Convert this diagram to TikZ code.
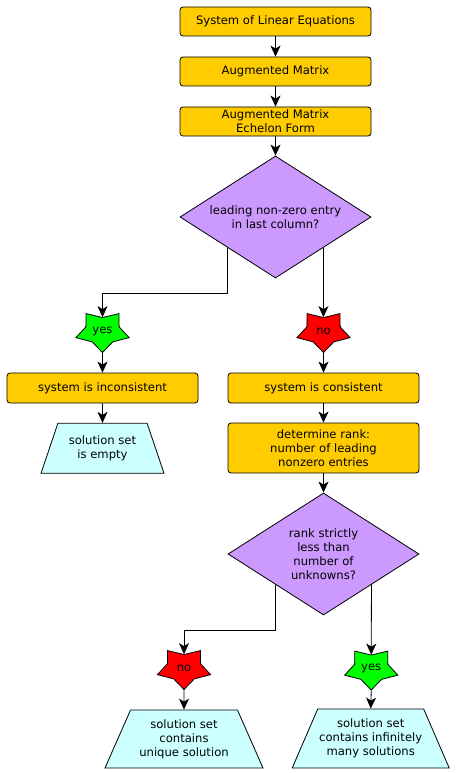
\documentclass[tikz,border=0pt]{standalone}
\usepackage{graphicx}
\usepackage{fontspec}
\setmainfont{DejaVu Sans}
\usetikzlibrary{shapes.geometric,arrows.meta}
\definecolor{boxyellow}{HTML}{FFCC00}
\definecolor{askpurple}{HTML}{CC99FF}
\definecolor{endcyan}{HTML}{CCFFFF}
\definecolor{yesgreen}{HTML}{00FF00}
\definecolor{nored}{HTML}{FF0000}

\tikzset{
  base/.style={draw, line width=0.8pt, font=\fontsize{11.6}{13.8}\selectfont, align=center, inner sep=1pt},
  stepbox/.style={base, fill=boxyellow, rounded corners=3pt, minimum width=191pt, minimum height=29pt},
  question/.style={base, diamond, aspect=1.566, fill=askpurple, minimum width=191pt, minimum height=122pt, inner sep=0pt},
  answer/.style={base, star, star points=5, star point ratio=1.6, shape border rotate=180, minimum size=43pt, inner sep=0pt, transform shape},
  result/.style={base, trapezium, trapezium angle=58, trapezium stretches body, fill=endcyan},
  arrow/.style={line width=0.8pt, -{Stealth[length=11pt,width=10pt,inset=3pt]}}
}

\begin{document}
\begin{tikzpicture}[x=1pt, y=-1pt]
  \useasboundingbox (0,0) rectangle (458,773);
  % main chain
  \node[stepbox] (sys) at (275.5,21.5) {System of Linear Equations};
  \node[stepbox] (aug) at (275.5,71.5) {Augmented Matrix};
  \node[stepbox] (ech) at (275.5,121.5) {Augmented Matrix\\Echelon Form};
  \node[question] (lead) at (275.5,217) {leading non-zero entry\\in last column?};
  % answers to the first question
  \begin{scope}[shift={(102.5,331)}, xscale=1.3]
    \node[answer, fill=yesgreen] (yes1) {\scalebox{0.769}[1]{yes}};
  \end{scope}
  \begin{scope}[shift={(323.5,331)}, xscale=1.3]
    \node[answer, fill=nored] (no1) {\scalebox{0.769}[1]{no}};
  \end{scope}
  \node[stepbox, minimum height=30pt] (inc) at (102.5,388) {system is inconsistent};
  \node[stepbox, minimum height=30pt] (cons) at (323.5,388) {system is consistent};
  \node[result, minimum width=123pt, minimum height=50pt] (empty) at (102.5,448.3) {solution set\\is empty};
  \node[stepbox, minimum height=50pt] (rank) at (323.5,448) {determine rank:\\number of leading\\nonzero entries};
  \node[question] (less) at (323.5,554) {rank strictly\\less than\\number of\\unknowns?};
  % answers to the second question
  \begin{scope}[shift={(184,668)}, xscale=1.3]
    \node[answer, fill=nored] (no2) {\scalebox{0.769}[1]{no}};
  \end{scope}
  \begin{scope}[shift={(371.25,668.5)}, xscale=1.3]
    \node[answer, fill=yesgreen] (yes2) {\scalebox{0.769}[1]{yes}};
  \end{scope}
  \node[result, minimum width=158pt, minimum height=58pt] (uniq) at (184,739) {solution set\\contains\\unique solution};
  \node[result, minimum width=157pt, minimum height=59pt] (inf) at (370.7,738.5) {solution set\\contains infinitely\\many solutions};
  % connectors
  \draw[arrow] (sys) -- (aug);
  \draw[arrow] (aug) -- (ech);
  \draw[arrow] (ech) -- (lead);
  \draw[arrow] (lead.south west) -- ++(0,45.5) -| (yes1.north);
  \draw[arrow] (lead.south east) -- (lead.south east |- no1.north);
  \draw[arrow] (yes1.south) -- (inc.north);
  \draw[arrow] (no1.south) -- (cons.north);
  \draw[arrow] (inc) -- (empty);
  \draw[arrow] (cons) -- (rank);
  \draw[arrow] (rank) -- (less);
  \draw[arrow] (less.south west) -- ++(0,45.5) -| (no2.north);
  \draw[arrow] (less.south east) -- (yes2.north);
  \draw[arrow] (no2.south) -- (uniq.north);
  \draw[arrow] (yes2.south) -- (inf.north);
\end{tikzpicture}
\end{document}
